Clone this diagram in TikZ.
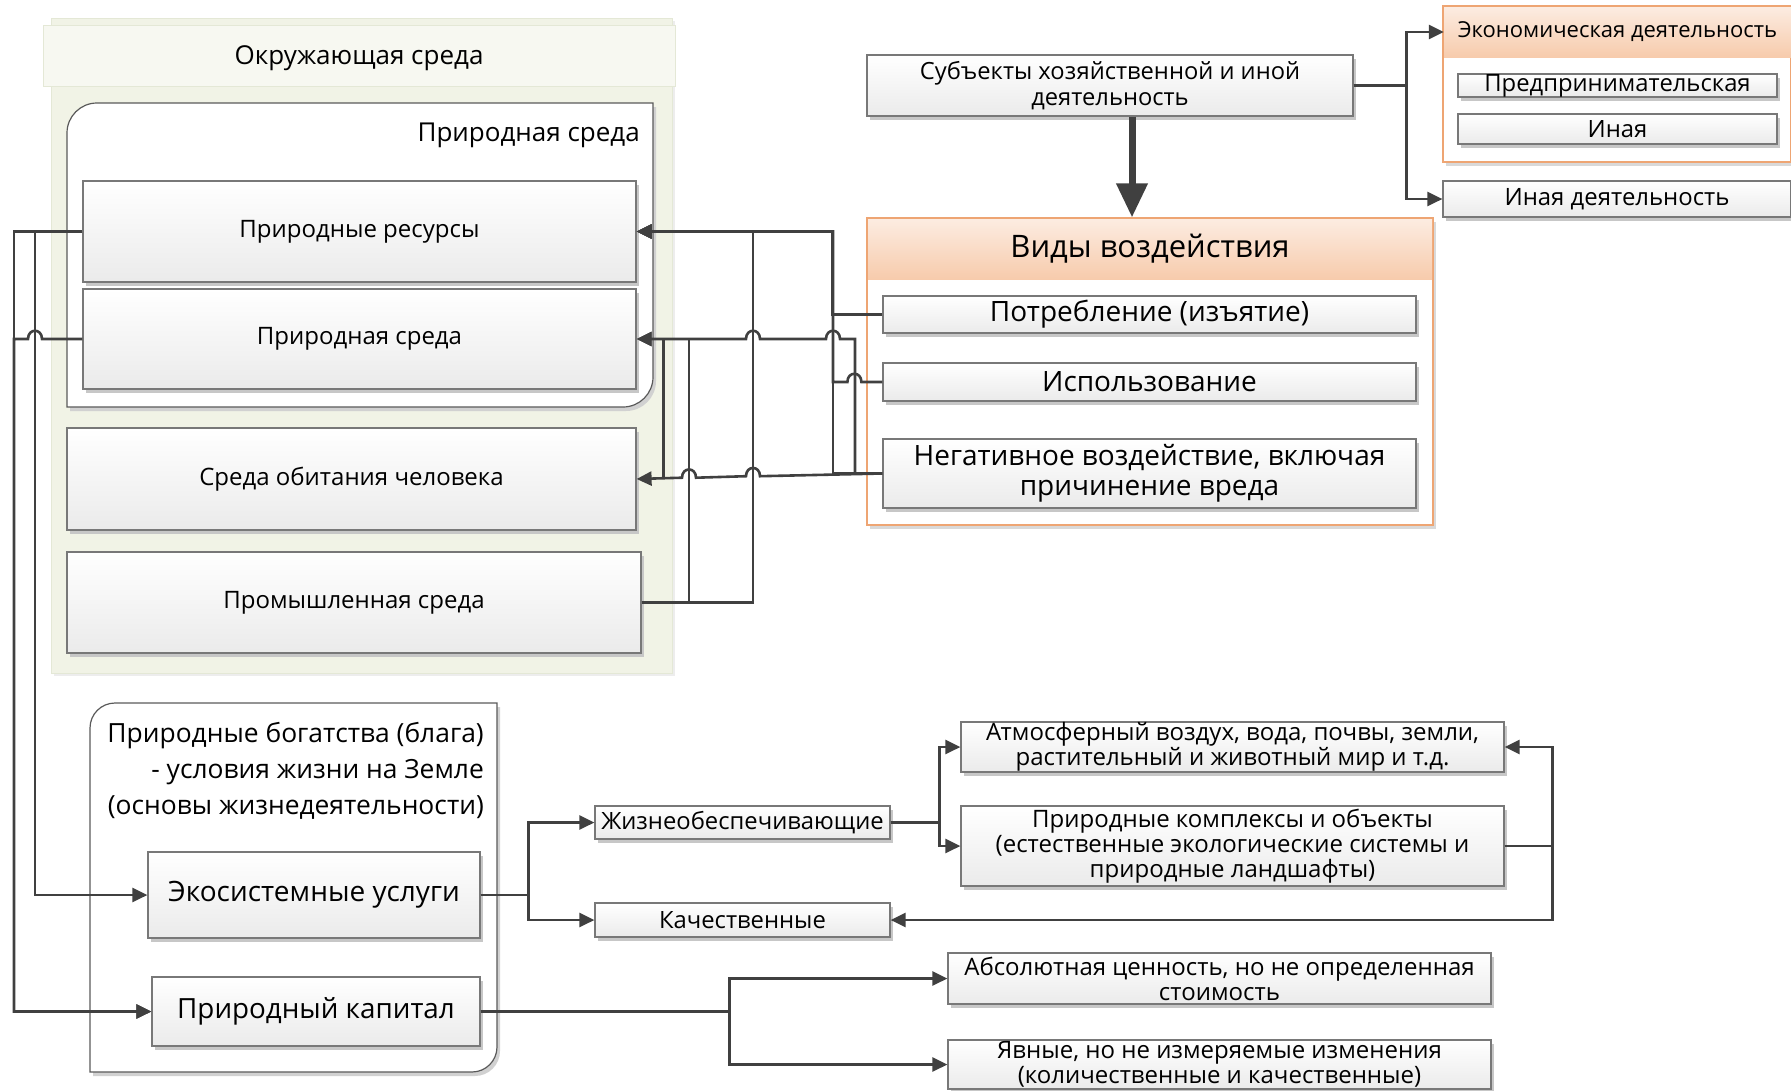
\documentclass[tikz,border=0pt]{standalone}
\usepackage{fontspec}
\setmainfont{Open Sans}
\usetikzlibrary{arrows.meta,shadows}

\definecolor{linegray}{RGB}{64,64,64}
\definecolor{boxline}{RGB}{120,120,120}
\definecolor{frameline}{RGB}{90,90,90}
\definecolor{envfill}{RGB}{241,243,230}
\definecolor{bandfill}{RGB}{247,248,241}
\definecolor{bandline}{RGB}{228,232,214}
\definecolor{orline}{RGB}{238,165,115}
\definecolor{hdtop}{RGB}{252,236,225}
\definecolor{hdbot}{RGB}{247,203,172}

\newcommand{\fsz}[2]{\fontsize{#1}{#2}\selectfont}
% line jump, drawn right to left
\newcommand{\hopl}{.. controls +(0,-11) and +(0,-11) .. ++(-14,0)}

\tikzset{
  box/.style={draw=boxline, line width=1.2pt, top color=white, bottom color=black!8,
    inner sep=0pt, align=center,
    drop shadow={shadow xshift=3pt, shadow yshift=-4pt, fill=black!22, opacity=1}},
  orbox/.style={draw=orline, line width=1.2pt, fill=white, inner sep=0pt,
    drop shadow={shadow xshift=3pt, shadow yshift=-4pt, fill=black!15, opacity=1}},
  hdr/.style={top color=hdtop, bottom color=hdbot, inner sep=0pt},
  frame/.style={draw=frameline, line width=1.2pt, fill=white,
    drop shadow={shadow xshift=3pt, shadow yshift=-4pt, fill=black!18, opacity=1}},
  arr/.style={draw=linegray, line width=2.6pt, -{Triangle[length=15pt,width=14pt]}},
  conn/.style={draw=linegray, line width=2.6pt},
  bigarr/.style={draw=linegray, line width=7pt, -{Triangle[length=34pt,width=30pt]}}
}

\begin{document}
\begin{tikzpicture}[x=1pt,y=-1pt]
\useasboundingbox (0,0) rectangle (1791,1090);

% Okruzhayushchaya sreda
\node[fill=envfill, draw=bandline, minimum width=621pt, minimum height=655pt,
  drop shadow={shadow xshift=3pt, shadow yshift=-3pt, fill=black!7, opacity=1}] (env) at (361.5,345.5) {};
\node[fill=bandfill, draw=bandline, minimum width=632pt, minimum height=61pt] (envhd) at (359,55.5) {};
\node[inner sep=0pt, font={\fsz{26}{30}}] (envt) at (359,58) {Окружающая среда};

% Prirodnaya sreda (container)
\draw[frame] (67,407) -- (67,133) .. controls (67,116.4) and (80.4,103) .. (97,103) -- (653,103)
  -- (653,377) .. controls (653,393.6) and (639.6,407) .. (623,407) -- cycle;
\node[anchor=east, inner sep=0pt, font={\fsz{26}{30}}] (natt) at (640,135) {Природная среда};

\node[box, minimum width=553pt, minimum height=101pt, font={\fsz{24}{28}}] (res) at (359.5,231.5) {Природные ресурсы};
\node[box, minimum width=553pt, minimum height=100pt, font={\fsz{24}{28}}] (prs) at (359.5,339) {Природная среда};
\node[box, minimum width=569pt, minimum height=102pt, font={\fsz{24}{28}}] (soh) at (351.5,479) {Среда обитания человека};
\node[box, minimum width=574pt, minimum height=101pt, font={\fsz{24}{28}}] (ind) at (354,602.5) {Промышленная среда};

% Subjekty
\node[box, minimum width=486pt, minimum height=61pt, font={\fsz{23.7}{26}}] (subj) at (1110,85.5) {Субъекты хозяйственной и иной\\деятельность};

\node[orbox, minimum width=348pt, minimum height=156pt] (econ) at (1617,84) {};
\node[hdr, minimum width=347pt, minimum height=50pt, font={\fsz{22}{24}}] (econhd) at (1617.5,32) {Экономическая деятельность};
\node[box, minimum width=319pt, minimum height=23pt, font={\fsz{23.8}{25}}] (entr) at (1617.5,85.5) {Предпринимательская};
\node[box, minimum width=319pt, minimum height=30pt, font={\fsz{23.8}{25}}] (oth) at (1617.5,129) {Иная};
\node[box, minimum width=348pt, minimum height=36pt, font={\fsz{23.9}{26}}] (othact) at (1617,199) {Иная деятельность};

% Vidy vozdejstviya
\node[orbox, minimum width=566pt, minimum height=307pt] (vid) at (1150,371.5) {};
\node[hdr, minimum width=564pt, minimum height=60pt, font={\fsz{31}{34}}] (vidhd) at (1150,249) {Виды воздействия};
\node[box, minimum width=533pt, minimum height=37pt, font={\fsz{28}{30}}] (cons) at (1149.5,314.5) {Потребление (изъятие)};
\node[box, minimum width=533pt, minimum height=38pt, font={\fsz{28}{30}}] (use) at (1149.5,382) {Использование};
\node[box, minimum width=533pt, minimum height=69pt, font={\fsz{28}{30}}] (neg) at (1149.5,473.5) {Негативное воздействие, включая\\причинение вреда};

% Prirodnye bogatstva (container)
\draw[frame] (90,1072) -- (90,728) .. controls (90,714.2) and (101.2,703) .. (115,703) -- (497,703)
  -- (497,1047) .. controls (497,1060.8) and (485.8,1072) .. (472,1072) -- cycle;
\node[anchor=east, align=right, inner sep=0pt, font={\fsz{26.4}{36}}] (wealtht) at (484,771) {Природные богатства (блага)\\- условия жизни на Земле\\(основы жизнедеятельности)};

\node[box, minimum width=332pt, minimum height=86pt, font={\fsz{28}{32}}] (eco) at (314,895) {Экосистемные услуги};
\node[box, minimum width=328pt, minimum height=69pt, font={\fsz{27.8}{32}}] (cap) at (316,1011.5) {Природный капитал};

\node[box, minimum width=295pt, minimum height=33pt, font={\fsz{23.8}{25}}] (life) at (742.5,822.5) {Жизнеобеспечивающие};
\node[box, minimum width=295pt, minimum height=34pt, font={\fsz{23.8}{25}}] (qual) at (742.5,920) {Качественные};
\node[box, minimum width=543pt, minimum height=50pt, font={\fsz{24}{25}}] (atm) at (1232.5,747) {Атмосферный воздух, вода, почвы, земли,\\растительный и животный мир и т.д.};
\node[box, minimum width=543pt, minimum height=80pt, font={\fsz{24}{25}}] (cplx) at (1232.5,846) {Природные комплексы и объекты\\(естественные экологические системы и\\природные ландшафты)};
\node[box, minimum width=543pt, minimum height=51pt, font={\fsz{24}{25}}] (abs) at (1219.5,978.5) {Абсолютная ценность, но не определенная\\стоимость};
\node[box, minimum width=543pt, minimum height=49pt, font={\fsz{24}{25}}] (expl) at (1219.5,1064.5) {Явные, но не измеряемые изменения\\(количественные и качественные)};

% top connectors
\draw[bigarr] ([xshift=22pt]subj.south) -- ([xshift=22pt]subj.south |- vid.north);
\draw[arr] (subj.east) -- ++(53,0) |- (econhd.west);
\draw[arr] (subj.east) -- ++(53,0) |- (othact.west);

% vidy -> sredy
\draw[arr] (cons.west) -- ++(-50,0) |- (res.east);
\draw[arr] (use.west) -- ++(-21,0) \hopl -- (833,382) |- (res.east);
\draw[arr] (neg.west) -| (833,231.5) -- (res.east);
\draw[arr] (neg.west) -| (855,339) -- (840,339) \hopl -- (760,339) \hopl -- (prs.east);
\draw[arr] (neg.west) -- (760,476.2) \hopl -- (696,477.7) \hopl -- (soh.east);
\draw[arr] (ind.east) -| (753,231.5) -- (res.east);
\draw[arr] (ind.east) -| (689,339) -- (prs.east);
\draw[conn] ([xshift=27pt]prs.east) -- ([xshift=27pt]soh.east);

% left side
\draw[arr] (res.west) -| (14,1011.5) -- (cap.west);
\draw[arr] (res.west) -| (35,895) -- (eco.west);
\draw[arr] (prs.west) -- (42,339) \hopl -- (14,339) |- (cap.west);

% bottom
\draw[arr] (eco.east) -- ++(48,0) |- (life.west);
\draw[arr] (eco.east) -- ++(48,0) |- (qual.west);
\draw[arr] (cap.east) -- ++(249,0) |- (abs.west);
\draw[arr] (cap.east) -- ++(249,0) |- (expl.west);
\draw[arr] (life.east) -- ++(49,0) |- (atm.west);
\draw[arr] (life.east) -- ++(49,0) |- (cplx.west);
\draw[arr] (cplx.east) -- ++(48,0) |- (atm.east);
\draw[arr] (cplx.east) -- ++(48,0) |- (qual.east);
\end{tikzpicture}
\end{document}
